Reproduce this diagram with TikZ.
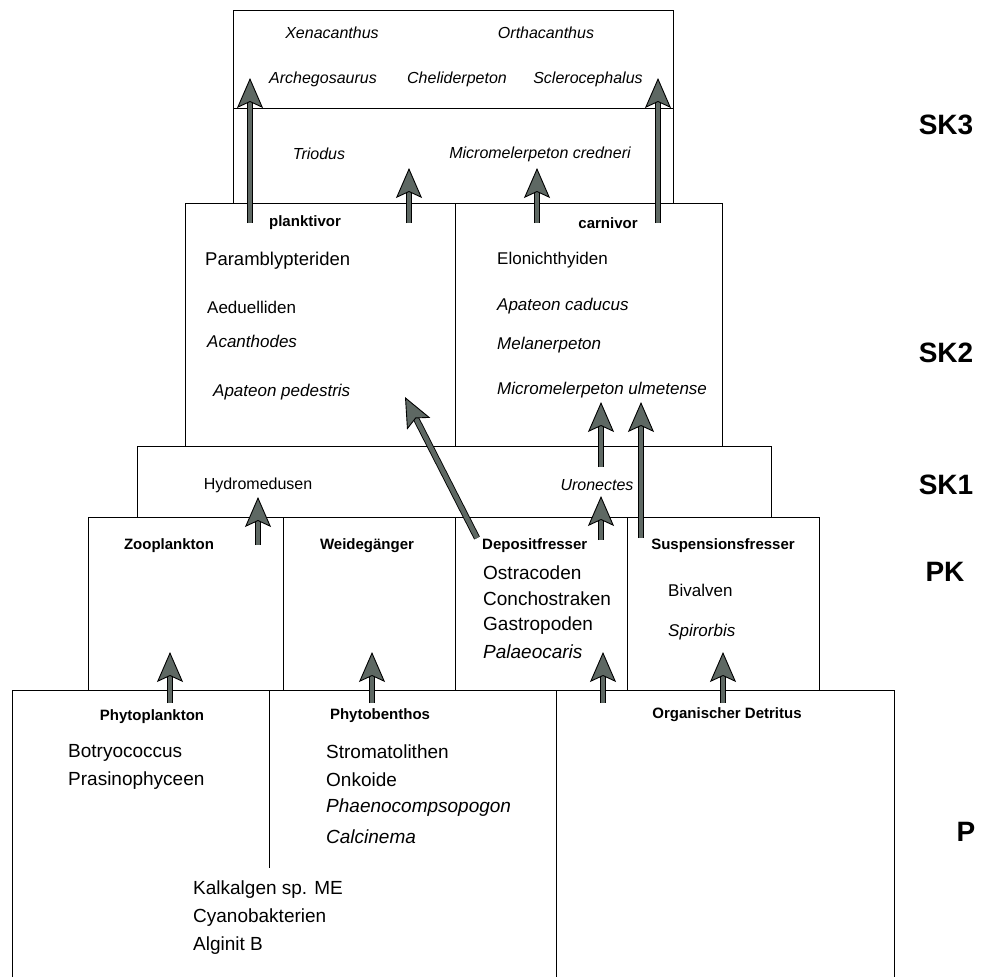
\documentclass[tikz,border=0pt]{standalone}
\usepackage{fontspec}
\setmainfont{Liberation Sans}
\usetikzlibrary{arrows.meta,calc}
\definecolor{arrowgray}{HTML}{5E6863}
\tikzset{
  box/.style={draw=black, line width=0.9pt},
  txt/.style={font=\fontsize{16}{18}\selectfont, inner sep=0pt},
  txtm/.style={font=\fontsize{17}{19}\selectfont, inner sep=0pt},
  txtl/.style={font=\fontsize{18.5}{20}\selectfont, inner sep=0pt},
  txtp/.style={font=\fontsize{19}{21}\selectfont, inner sep=0pt},
  spec/.style={font=\itshape\fontsize{16}{18}\selectfont, inner sep=0pt},
  specm/.style={font=\itshape\fontsize{17}{19}\selectfont, inner sep=0pt},
  specl/.style={font=\itshape\fontsize{18.5}{20}\selectfont, inner sep=0pt},
  specp/.style={font=\itshape\fontsize{19}{21}\selectfont, inner sep=0pt},
  hdr/.style={font=\bfseries\fontsize{15}{17}\selectfont, inner sep=0pt},
  lvl/.style={font=\bfseries\fontsize{28}{30}\selectfont, inner sep=0pt},
  shaft/.style={draw=black, line width=0.9pt, double=arrowgray, double distance=4.6pt},
  head/.style={draw=arrowgray, line width=0.9pt,
    -{Stealth[length=30pt, width=26pt, inset=6pt, color=black, fill=arrowgray]}}
}
\newcommand\blockarrow[2]{%
  \draw[shaft] (#1) -- ($(#2)!20pt!(#1)$);
  \draw[head] ($(#2)!42pt!(#1)$) -- (#2);}
\begin{document}
\begin{tikzpicture}[x=1pt,y=-1pt]
\useasboundingbox (0,0) rectangle (982,977);
% ---------- boxes ----------
% P
\draw[box] (12,977) -- (12,690) -- (894,690) -- (894,977);
\draw[box] (556,690) -- (556,977);
\draw[box] (269,690) -- (269,868);
% PK
\draw[box] (88,690) -- (88,517) -- (819,517) -- (819,690);
\draw[box] (283,517) -- (283,690);
\draw[box] (455,517) -- (455,690);
\draw[box] (627,517) -- (627,690);
% SK1
\draw[box] (137,517) -- (137,446) -- (771,446) -- (771,517);
% SK2
\draw[box] (185,446) -- (185,203) -- (722,203) -- (722,446);
\draw[box] (455,203) -- (455,446);
% SK3
\draw[box] (233,203) -- (233,10) -- (673,10) -- (673,203);
\draw[box] (233,108) -- (673,108);
% ---------- SK3 texts ----------
\node[spec] (xen) at (332,33) {Xenacanthus};
\node[spec] (ort) at (546,33) {Orthacanthus};
\node[spec] (arc) at (323,79) {Archegosaurus};
\node[spec] (che) at (457,79) {Cheliderpeton};
\node[spec] (scl) at (588,79) {Sclerocephalus};
\node[spec] (tri) at (319,154) {Triodus};
\node[spec] (mcr) at (540,154) {Micromelerpeton credneri};
% ---------- SK2 texts ----------
\node[hdr] (pla) at (305,223) {planktivor};
\node[hdr] (car) at (608,223) {carnivor};
\node[txtl, anchor=west] (par) at (205,261) {Paramblypteriden};
\node[txtm, anchor=west] (aed) at (207,307) {Aeduelliden};
\node[specm, anchor=west] (aca) at (207,341) {Acanthodes};
\node[specm, anchor=west] (apd) at (213,392) {Apateon pedestris};
\node[txtm, anchor=west] (elo) at (497,260) {Elonichthyiden};
\node[specm, anchor=west] (apc) at (497,306) {Apateon caducus};
\node[specm, anchor=west] (mel) at (497,345) {Melanerpeton};
\node[specm, anchor=west] (mul) at (497,390) {Micromelerpeton ulmetense};
% ---------- SK1 texts ----------
\node[txt] (hyd) at (258,485) {Hydromedusen};
\node[spec] (uro) at (597,485) {Uronectes};
% ---------- PK texts ----------
\node[hdr] (zoo) at (169,546) {Zooplankton};
\node[hdr] (wei) at (367,546) {Weidegänger};
\node[hdr, anchor=west] (dep) at (482,546) {Depositfresser};
\node[hdr] (sus) at (723,546) {Suspensionsfresser};
\node[txtp, anchor=west] (ost) at (483,573) {Ostracoden};
\node[txtp, anchor=west] (con) at (483,599) {Conchostraken};
\node[txtp, anchor=west] (gas) at (483,626) {Gastropoden};
\node[specp, anchor=west] (pal) at (483,652) {Palaeocaris};
\node[txtm, anchor=west] (biv) at (668,590) {Bivalven};
\node[specm, anchor=west] (spi) at (668,632) {Spirorbis};
% ---------- P texts ----------
\node[hdr] (phy) at (152,717) {Phytoplankton};
\node[hdr] (pbe) at (380,716) {Phytobenthos};
\node[hdr] (det) at (727,715) {Organischer Detritus};
\node[txtp, anchor=west] (bot) at (68,753) {Botryococcus};
\node[txtp, anchor=west] (pra) at (68,781) {Prasinophyceen};
\node[txtp, anchor=west] (str) at (326,752) {Stromatolithen};
\node[txtp, anchor=west] (onk) at (326,780) {Onkoide};
\node[specp, anchor=west] (pha) at (326,808) {Phaenocompsopogon};
\node[specp, anchor=west] (cal) at (326,837) {Calcinema};
\node[txtp, anchor=west] (kal) at (193,890) {Kalkalgen sp. ME};
\node[txtp, anchor=west] (cya) at (193,918) {Cyanobakterien};
\node[txtp, anchor=west] (alg) at (193,946) {Alginit B};
% ---------- level labels ----------
\node[lvl] (l3) at (946,125) {SK3};
\node[lvl] (l2) at (946,353) {SK2};
\node[lvl] (l1) at (946,485) {SK1};
\node[lvl] (lpk) at (945,572) {PK};
\node[lvl] (lp) at (966,832) {P};
% ---------- arrow end points ----------
\coordinate (a1s) at (250,223); \coordinate (a1t) at (250,78);
\coordinate (a2s) at (658,223); \coordinate (a2t) at (658,78);
\coordinate (a3s) at (409,223); \coordinate (a3t) at (409,168);
\coordinate (a4s) at (537,223); \coordinate (a4t) at (537,168);
\coordinate (a5s) at (477,538); \coordinate (a5t) at (405,397);
\coordinate (a6s) at (601,467); \coordinate (a6t) at (601,402);
\coordinate (a7s) at (641,538); \coordinate (a7t) at (641,402);
\coordinate (a8s) at (601,540); \coordinate (a8t) at (601,496);
\coordinate (a9s) at (258,545); \coordinate (a9t) at (258,497);
\coordinate (a10s) at (170,703); \coordinate (a10t) at (170,652);
\coordinate (a11s) at (372,703); \coordinate (a11t) at (372,652);
\coordinate (a12s) at (603,703); \coordinate (a12t) at (603,652);
\coordinate (a13s) at (723,703); \coordinate (a13t) at (723,652);
% ---------- arrows ----------
\blockarrow{a1s}{a1t}
\blockarrow{a2s}{a2t}
\blockarrow{a3s}{a3t}
\blockarrow{a4s}{a4t}
\blockarrow{a5s}{a5t}
\blockarrow{a6s}{a6t}
\blockarrow{a7s}{a7t}
\blockarrow{a8s}{a8t}
\blockarrow{a9s}{a9t}
\blockarrow{a10s}{a10t}
\blockarrow{a11s}{a11t}
\blockarrow{a12s}{a12t}
\blockarrow{a13s}{a13t}
\end{tikzpicture}
\end{document}
